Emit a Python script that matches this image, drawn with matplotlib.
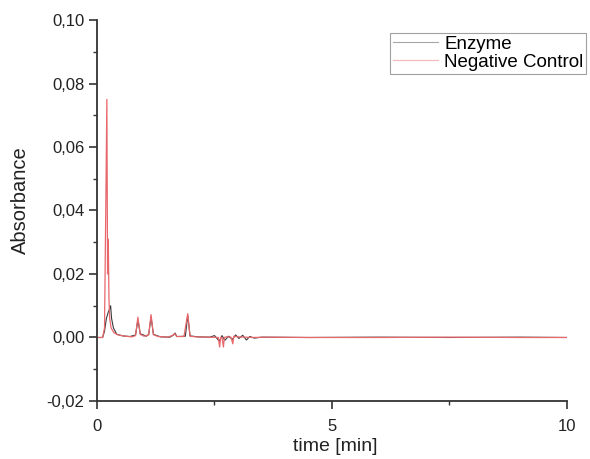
import matplotlib
matplotlib.use("Agg")
import matplotlib.pyplot as plt
from matplotlib.ticker import MultipleLocator, FuncFormatter

# time [min] and absorbance
t_enzyme = [0.0, 0.12, 0.16, 0.2, 0.24, 0.27, 0.29, 0.31, 0.35, 0.42, 0.55, 0.7, 0.82, 0.87, 0.92,
            1.05, 1.1, 1.15, 1.2, 1.35, 1.55, 1.63, 1.66, 1.7, 1.88, 1.93, 1.98, 2.15, 2.4, 2.5,
            2.56, 2.6, 2.66, 2.72, 2.8, 2.88, 2.95, 3.02, 3.1, 3.18, 3.25, 3.35, 3.5, 4.5, 6.0, 7.5, 9.0, 10.0]
a_enzyme = [0.0, 0.0, 0.002, 0.006, 0.008, 0.009, 0.010, 0.006, 0.003, 0.001, 0.0005, 0.0003, 0.0008, 0.0055, 0.0012,
            0.0004, 0.001, 0.0065, 0.001, 0.0002, 0.0001, 0.0008, 0.0014, 0.0003, 0.0004, 0.007, 0.0005, 0.0002, 0.0001, 0.0006,
            -0.0004, -0.0012, 0.0006, -0.0009, 0.0004, -0.0006, 0.0008, -0.0003, 0.0007, -0.0008, 0.0003, -0.0002, 0.0001, 0.0, 0.0001, 0.0, 0.0001, 0.0]

t_control = [0.0, 0.12, 0.16, 0.19, 0.21, 0.225, 0.24, 0.255, 0.27, 0.3, 0.36, 0.45, 0.6, 0.75, 0.82,
             0.87, 0.92, 1.0, 1.1, 1.15, 1.2, 1.3, 1.5, 1.6, 1.65, 1.7, 1.85, 1.93, 1.98, 2.1,
             2.4, 2.58, 2.61, 2.63, 2.66, 2.69, 2.71, 2.75, 2.85, 2.89, 2.91, 3.0, 3.3, 3.6, 4.5, 6.0, 7.5, 9.0, 10.0]
a_control = [0.0, 0.0, 0.003, 0.045, 0.075, 0.02, 0.031, 0.012, 0.006, 0.003, 0.0015, 0.0008, 0.0004, 0.0002, 0.0006,
             0.0064, 0.001, 0.0004, 0.0008, 0.0072, 0.0009, 0.0003, 0.0001, 0.0006, 0.0012, 0.0003, 0.0003, 0.0075, 0.0004, 0.0002,
             0.0001, 0.0, -0.003, 0.0, 0.0, -0.003, 0.0, 0.0002, 0.0001, -0.002, 0.0004, 0.0002, 0.0, 0.0001, 0.0, 0.0, 0.0001, 0.0, 0.0]

x_ticks = [0, 5, 10]
y_ticks = [-0.02, 0.0, 0.02, 0.04, 0.06, 0.08, 0.10]

plt.rcParams["font.family"] = ["Liberation Sans", "DejaVu Sans"]

fig = plt.figure(figsize=(5.9, 4.59), dpi=100)
ax = fig.add_axes([0.1644, 0.1264, 0.7966, 0.83])

ax.plot(t_enzyme, a_enzyme, color="#3a3a3a", lw=0.8, label="Enzyme")
ax.plot(t_control, a_control, color="#e8676b", lw=0.9, label="Negative Control")

ax.set_xlim(0, 10)
ax.set_ylim(-0.02, 0.10)
ax.set_xticks(x_ticks)
ax.set_yticks(y_ticks)
ax.xaxis.set_minor_locator(MultipleLocator(2.5))
ax.yaxis.set_minor_locator(MultipleLocator(0.01))
ax.yaxis.set_major_formatter(FuncFormatter(lambda v, p: f"{v:.2f}".replace(".", ",")))

for side in ["top", "right"]:
    ax.spines[side].set_visible(False)
for side in ["left", "bottom"]:
    ax.spines[side].set_color("#333333")
    ax.spines[side].set_linewidth(1.3)

ax.tick_params(which="major", direction="out", length=6, width=1.2, color="#333333",
               labelsize=12, labelcolor="#222222")
ax.tick_params(which="minor", direction="out", length=3, width=1.0, color="#333333")
ax.tick_params(axis="x", which="major", pad=7)
ax.tick_params(axis="y", which="major", pad=3)

ax.set_xlabel("time [min]", fontsize=14, color="#222222")
ax.set_ylabel("Absorbance", fontsize=14.5, color="#222222")
ax.xaxis.set_label_coords(0.506, -0.096)
ax.yaxis.set_label_coords(-0.142, 0.526)

leg = ax.legend(loc="upper left", bbox_to_anchor=(390 / 590, 1 - 33 / 459),
                bbox_transform=fig.transFigure, fontsize=13.5, frameon=True,
                fancybox=False, borderpad=0.15, handlelength=2.4, handletextpad=0.35,
                labelspacing=0.05, borderaxespad=0)
leg.get_frame().set_edgecolor("#888888")
leg.get_frame().set_linewidth(0.8)
for line in leg.get_lines():
    line.set_alpha(0.45)

fig.savefig("out.png", dpi=100)
